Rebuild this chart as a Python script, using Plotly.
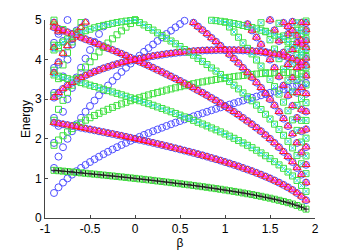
import plotly.graph_objects as go

# beta grid of the computed levels
beta = [-0.9, -0.85, -0.8, -0.75, -0.7, -0.65, -0.6, -0.55, -0.5, -0.45,
        -0.4, -0.35, -0.3, -0.25, -0.2, -0.15, -0.1, -0.05, 0.0, 0.05,
        0.1, 0.15, 0.2, 0.25, 0.3, 0.35, 0.4, 0.45, 0.5, 0.55,
        0.6, 0.65, 0.7, 0.75, 0.8, 0.85, 0.9, 0.95, 1.0, 1.05,
        1.1, 1.15, 1.2, 1.25, 1.3, 1.35, 1.4, 1.45, 1.5, 1.55,
        1.6, 1.65, 1.7, 1.75, 1.8, 1.85, 1.9]

# lowest level (green squares + black line)
ground = [1.204, 1.194, 1.183, 1.173, 1.162, 1.151, 1.140, 1.129, 1.118, 1.107,
          1.095, 1.084, 1.072, 1.061, 1.049, 1.037, 1.025, 1.012, 1.000, 0.987,
          0.975, 0.962, 0.949, 0.935, 0.922, 0.908, 0.894, 0.880, 0.866, 0.851,
          0.837, 0.822, 0.806, 0.791, 0.775, 0.758, 0.742, 0.725, 0.707, 0.689,
          0.671, 0.652, 0.632, 0.612, 0.592, 0.570, 0.548, 0.524, 0.500, 0.474,
          0.447, 0.418, 0.387, 0.354, 0.316, 0.274, 0.224]

# rising blue-circle level
rise = [0.632, 0.775, 0.894, 1.000, 1.095, 1.183, 1.265, 1.342, 1.414, 1.483,
        1.549, 1.612, 1.673, 1.732, 1.789, 1.844, 1.897, 1.949, 2.000, 2.049,
        2.098, 2.145, 2.191, 2.236, 2.280, 2.324, 2.366, 2.408, 2.449, 2.490,
        2.530, 2.569, 2.608, 2.646, 2.683, 2.720, 2.757, 2.793, 2.828, 2.864,
        2.898, 2.933, 2.966, 3.000, 3.033, 3.066, 3.098, 3.130, 3.162, 3.194,
        3.225, 3.256, 3.286, 3.317, 3.347, 3.376, 3.406]

# quantum numbers of the level ladder: E = n*ground + m*rise
n_quanta = list(range(0, 23))
m_quanta = list(range(0, 8))

x_ticks = [-1, -0.5, 0, 0.5, 1, 1.5, 2]
y_ticks = [0, 1, 2, 3, 4, 5]

assert len(beta) == len(ground) == len(rise)

E_MAX = 5.005
FONT = "Liberation Sans, Arial, sans-serif"


def collect(cond):
    xs, ys = [], []
    for n in n_quanta:
        for m in m_quanta:
            if not cond(n, m):
                continue
            for b, g, r in zip(beta, ground, rise):
                e = n * g + m * r
                if e <= E_MAX:
                    xs.append(b)
                    ys.append(e)
    return xs, ys


blue_x, blue_y = collect(lambda n, m: n % 2 == 0 and not (n == 0 and m == 0))
green_x, green_y = collect(lambda n, m: n % 2 == 1)
red_x, red_y = collect(lambda n, m: n % 2 == 0 and n >= 2)
mag_x, mag_y = collect(lambda n, m: n % 2 == 0 and n >= 2 and m <= 1)
cyan_x, cyan_y = collect(lambda n, m: n % 2 == 1 and n >= 3 and m <= 1)

fig = go.Figure()

fig.add_trace(go.Scatter(
    x=blue_x, y=blue_y, mode="markers", cliponaxis=False,
    marker=dict(symbol="circle-open", size=7, color="#5050ff",
                line=dict(width=1, color="#5050ff"))))
fig.add_trace(go.Scatter(
    x=green_x, y=green_y, mode="markers", cliponaxis=False,
    marker=dict(symbol="square-open", size=6, color="#40e040",
                line=dict(width=1, color="#40e040"))))
fig.add_trace(go.Scatter(
    x=red_x, y=red_y, mode="markers", cliponaxis=False,
    marker=dict(symbol="triangle-up-open", size=7, color="#ff1a1a",
                line=dict(width=1, color="#ff1a1a"))))
fig.add_trace(go.Scatter(
    x=mag_x, y=mag_y, mode="markers", cliponaxis=False,
    marker=dict(symbol="circle", size=3, color="#ff30ff",
                line=dict(width=0))))
fig.add_trace(go.Scatter(
    x=cyan_x, y=cyan_y, mode="markers", cliponaxis=False,
    marker=dict(symbol="x-thin", size=4, color="#30dde8",
                line=dict(width=1, color="#30dde8"))))
fig.add_trace(go.Scatter(
    x=beta, y=ground, mode="lines+markers", cliponaxis=False,
    line=dict(color="#222222", width=1),
    marker=dict(symbol="cross-thin", size=4, color="#222222",
                line=dict(width=1, color="#222222"))))

axis_common = dict(
    showgrid=False, zeroline=False, showline=True, linecolor="#444444",
    linewidth=1, ticks="inside", ticklen=3, tickcolor="#444444",
    tickfont=dict(family=FONT, size=12, color="black"),
    mirror=False, automargin=False,
)

fig.update_layout(
    width=347, height=250,
    margin=dict(l=45, r=32, t=20, b=32, autoexpand=False),
    paper_bgcolor="white", plot_bgcolor="white",
    showlegend=False, hovermode=False,
    font=dict(family=FONT, size=12, color="black"),
    xaxis=dict(range=[-1, 2], tickvals=x_ticks,
               ticktext=[str(t) for t in x_ticks],
               title=dict(text="β", standoff=0,
                          font=dict(family=FONT, size=12)),
               **axis_common),
    yaxis=dict(range=[0, 5], tickvals=y_ticks, **axis_common),
    annotations=[
        dict(text="Energy", xref="paper", yref="paper",
             x=-19 / 270, y=0.5, xanchor="center", yanchor="middle",
             textangle=-90, showarrow=False,
             font=dict(family=FONT, size=12, color="black")),
    ],
)

fig.write_html(
    "out.html",
    config={"displayModeBar": False, "staticPlot": True},
    post_script="document.body.style.margin='0';"
                "document.body.style.padding='0';",
)
